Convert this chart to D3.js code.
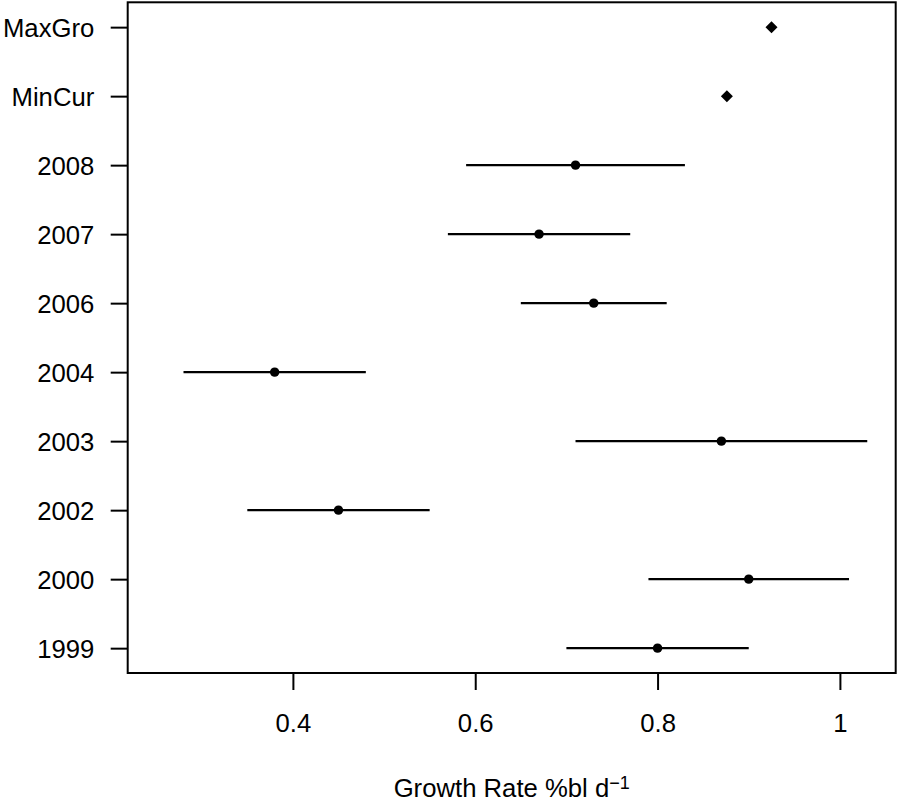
<!DOCTYPE html>
<html>
<head>
<meta charset="utf-8">
<script src="https://cdn.jsdelivr.net/npm/d3@7"></script>
<style>
  body { margin: 0; background: #fff; }
  svg { display: block; font-family: "Liberation Sans", Arial, Helvetica, sans-serif; }
</style>
</head>
<body>
<svg id="chart" width="898" height="803"></svg>
<script>
// survey years, bottom to top
var years = ["1999", "2000", "2002", "2003", "2004", "2006", "2007", "2008"];
var yearMean = [0.80, 0.90, 0.45, 0.87, 0.38, 0.73, 0.67, 0.71];
var yearLow = [0.70, 0.79, 0.35, 0.71, 0.28, 0.65, 0.57, 0.59];
var yearHigh = [0.90, 1.01, 0.55, 1.03, 0.48, 0.81, 0.77, 0.83];

// reference rates drawn as diamonds
var refNames = ["MinCur", "MaxGro"];
var refValues = [0.876, 0.925];

var xTicks = [0.4, 0.6, 0.8, 1];
var xLim = [0.25, 1.03];

var svg = d3.select("#chart");
// plot box edges (note: "top" is taken by window.top)
var boxL = 127.7, boxR = 895.7, boxT = 2.3, boxB = 673;
var fontSize = 25.7;

// R style 4% extension of the limits
var pad = (xLim[1] - xLim[0]) * 0.04;
var x = d3.scaleLinear()
    .domain([xLim[0] - pad, xLim[1] + pad])
    .range([boxL, boxR]);

var y = d3.scalePoint()
    .domain(years.concat(refNames))
    .range([boxB, boxT])
    .padding(0.36);

var bars = years.map(function(d, i) {
  return { label: d, mean: yearMean[i], lo: yearLow[i], hi: yearHigh[i] };
});
var refs = refNames.map(function(d, i) { return { label: d, value: refValues[i] }; });

// axes
var xAxis = svg.append("g")
    .attr("transform", "translate(0," + boxB + ")")
    .call(d3.axisBottom(x)
      .tickValues(xTicks)
      .tickFormat(function(d) { return d === 1 ? "1" : d3.format(".1f")(d); })
      .tickSize(17)
      .tickPadding(23.4));
xAxis.select(".domain").remove();
xAxis.selectAll("line").attr("stroke", "#000").attr("stroke-width", 2);
xAxis.selectAll("text").attr("font-size", fontSize).attr("fill", "#000")
    .style("font-family", "Liberation Sans, Arial, sans-serif");

var yAxis = svg.append("g")
    .attr("transform", "translate(" + boxL + ",0)")
    .call(d3.axisLeft(y).tickSize(17).tickPadding(16.4));
yAxis.select(".domain").remove();
yAxis.selectAll("line").attr("stroke", "#000").attr("stroke-width", 2);
yAxis.selectAll("text").attr("font-size", fontSize).attr("fill", "#000")
    .attr("dy", "0.36em")
    .style("font-family", "Liberation Sans, Arial, sans-serif");

// plot box
svg.append("rect")
    .attr("x", boxL).attr("y", boxT)
    .attr("width", boxR - boxL).attr("height", boxB - boxT)
    .attr("fill", "none").attr("stroke", "#000").attr("stroke-width", 2);

// error bars
svg.selectAll(".bar")
  .data(bars)
  .enter().append("line")
    .attr("class", "bar")
    .attr("x1", function(d) { return x(d.lo); })
    .attr("x2", function(d) { return x(d.hi); })
    .attr("y1", function(d) { return y(d.label); })
    .attr("y2", function(d) { return y(d.label); })
    .attr("stroke", "#000")
    .attr("stroke-width", 2.2);

svg.selectAll(".pt")
  .data(bars)
  .enter().append("circle")
    .attr("class", "pt")
    .attr("cx", function(d) { return x(d.mean); })
    .attr("cy", function(d) { return y(d.label); })
    .attr("r", 4.7)
    .attr("fill", "#000");

var diamond = d3.symbol().type(d3.symbolSquare).size(72);
svg.selectAll(".ref")
  .data(refs)
  .enter().append("path")
    .attr("class", "ref")
    .attr("d", diamond)
    .attr("transform", function(d) {
      return "translate(" + x(d.value) + "," + y(d.label) + ") rotate(45)";
    })
    .attr("fill", "#000");

// axis title
var title = svg.append("text")
    .attr("x", (boxL + boxR) / 2)
    .attr("y", 797)
    .attr("text-anchor", "middle")
    .attr("font-size", fontSize)
    .attr("fill", "#000");
title.append("tspan").text("Growth Rate %bl d");
title.append("tspan").attr("font-size", 18).attr("dy", -8).text("\u22121");
</script>
</body>
</html>
